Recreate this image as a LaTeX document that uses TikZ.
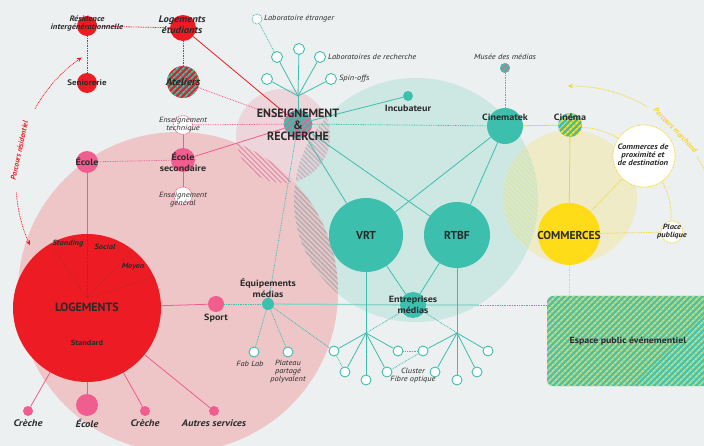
\documentclass[tikz,border=0pt]{standalone}
\usepackage{fontspec}
\setmainfont{PT Sans}
\newfontfamily\lbfont[FakeStretch=1.12]{PT Sans}
\usetikzlibrary{patterns.meta,arrows.meta}
\pgfdeclarelayer{lyrback}
\pgfdeclarelayer{lyredge}
\pgfsetlayers{lyrback,lyredge,main}
\definecolor{cbg}{HTML}{ECF0F0}
\definecolor{cred}{HTML}{ED1C24}
\definecolor{cpink}{HTML}{EF5E8E}
\definecolor{cteal}{HTML}{3DBFAE}
\definecolor{ctealL}{HTML}{8ED3C7}
\definecolor{cyel}{HTML}{FFDC17}
\definecolor{cyelL}{HTML}{F7D52A}
\definecolor{ctext}{HTML}{2A2A2A}
\definecolor{cpinkbg}{HTML}{EEC6C8}
\definecolor{ctealbg}{HTML}{CDE7E3}
\definecolor{cyelbg}{HTML}{EFEBC6}
\definecolor{cerbg}{HTML}{EDD5DC}
\definecolor{hAbase}{HTML}{D8CBCC}
\definecolor{hAline}{HTML}{C6A3A8}
\definecolor{hBbase}{HTML}{EFCDD4}
\definecolor{hBline}{HTML}{E592A6}
\definecolor{hCbase}{HTML}{DAD5DA}
\definecolor{hCline}{HTML}{C4B4BB}
\definecolor{hDbase}{HTML}{D6E8D5}
\definecolor{hDline}{HTML}{D8E6A5}
\definecolor{cespA}{HTML}{4EC2A6}
\definecolor{cespB}{HTML}{B8DD8C}
\definecolor{cdkred}{HTML}{B0252B}
\begin{document}
\begin{tikzpicture}[x=1pt,y=-1pt,
  nd/.style={circle,inner sep=0pt,minimum size=#1},
  lbl/.style={inner sep=0pt,align=center,text=ctext},
  fI/.style={lbl,font=\lbfont\fontsize{7.5}{8}\selectfont\itshape},
  fBI/.style={lbl,font=\lbfont\fontsize{7.8}{8}\selectfont\bfseries\itshape},
  fBIb/.style={lbl,font=\lbfont\fontsize{9.5}{10}\selectfont\bfseries\itshape},
  fBIs/.style={lbl,font=\lbfont\fontsize{7.5}{8}\selectfont\bfseries\itshape},
  fB/.style={lbl,font=\lbfont\fontsize{9}{10.5}\selectfont\bfseries},
  fBig/.style={lbl,font=\fontsize{12}{11.5}\selectfont\bfseries},
  fVB/.style={lbl,font=\fontsize{11.5}{12}\selectfont\bfseries},
  hatch/.style 2 args={fill=#1,postaction={pattern color=#2,pattern={Lines[angle=45,distance=4pt,line width=1.8pt]}}},
  rhatch/.style 2 args={fill=#1,postaction={pattern color=#2,pattern={Lines[angle=-45,distance=3.5pt,line width=1.3pt]}}},
  wt/.style={nd=#1,fill=white,draw=cteal,line width=0.9pt},
  wtd/.style={nd=#1,fill=white,draw=cteal,line width=0.8pt,dash pattern=on 0.8pt off 0.8pt},
  wpd/.style={nd=#1,fill=white,draw=cpink,line width=0.8pt,dash pattern=on 0.8pt off 0.8pt},
  wyd/.style={nd=#1,fill=white,draw=cyelL,line width=0.8pt,dash pattern=on 0.8pt off 0.8pt},
  tl/.style={draw=cteal,line width=0.8pt},
  tld/.style={draw=cteal,line width=0.8pt,dash pattern=on 0.8pt off 0.9pt},
  pl/.style={draw=cpink,line width=0.8pt},
  pld/.style={draw=cpink,line width=0.8pt,dash pattern=on 0.8pt off 0.9pt},
  rl/.style={draw=cred,line width=0.8pt},
  rld/.style={draw=cred,line width=0.8pt,dash pattern=on 0.8pt off 0.9pt},
  yl/.style={draw=cyelL,line width=0.8pt},
  yld/.style={draw=cyelL,line width=0.8pt,dash pattern=on 0.8pt off 0.9pt}
]
\useasboundingbox (0,0) rectangle (704,446);
% ---------- background zones ----------
\begin{pgfonlayer}{lyrback}
\fill[cbg] (0,0) rectangle (704,446);
\fill[cpinkbg] (178,292) circle[radius=160];
\fill[ctealbg] (416,200) circle[radius=122];
\fill[cyelbg] (570,197) circle[radius=67];
\fill[cerbg] (283,136) circle[radius=47];
\begin{scope}
  \clip (178,292) circle[radius=160];
  \path[rhatch={hAbase}{hAline}] (416,200) circle[radius=122];
\end{scope}
\begin{scope}
  \clip (416,200) circle[radius=122];
  \path[rhatch={hDbase}{hDline}] (570,197) circle[radius=67];
\end{scope}
\begin{scope}
  \clip (178,292) circle[radius=160];
  \path[rhatch={hBbase}{hBline}] (283,136) circle[radius=47];
\end{scope}
\begin{scope}
  \clip (416,200) circle[radius=122];
  \path[rhatch={hCbase}{hCline}] (283,136) circle[radius=47];
\end{scope}
\end{pgfonlayer}
% ---------- nodes ----------
\node[nd=20pt,fill=cred] (resid) at (87,26) {};
\node[nd=20pt,fill=cred] (senior) at (87,83) {};
\node[nd=26pt,fill=cred] (logetu) at (183,28) {};
\node[nd=32pt,hatch={cred}{cteal}] (ateliers) at (183,82) {};
\node[wpd=19pt] (enstech) at (183,125) {};
\node[nd=24pt,fill=cpink] (ecolesec) at (183,160) {};
\node[wpd=18pt] (ensgen) at (183,196) {};
\node[nd=22pt,fill=cpink] (ecole) at (87,162) {};
\node[nd=148pt,fill=cred] (logements) at (87,308) {};
\node[nd=10pt,fill=cpink] (creche1) at (28,411) {};
\node[nd=22pt,fill=cpink] (ecole2) at (87,405) {};
\node[nd=10pt,fill=cpink] (creche2) at (145,411) {};
\node[nd=10pt,fill=cpink] (autres) at (214,411) {};
\node[nd=16pt,fill=cpink] (sport) at (216,304) {};
\node[nd=12pt,fill=cteal] (equip) at (268,304) {};
\node[wt=10pt] (fablab) at (254,352) {};
\node[wt=10pt] (plateau) at (288,352) {};
\node[nd=28pt,hatch={cteal}{cpink}] (er) at (298,124) {};
\coordinate (labhub) at (298,96);
\node[wt=11pt] (lab1) at (267,79) {};
\node[wt=11pt] (lab2) at (277,57) {};
\node[wt=11pt] (lab3) at (299,49) {};
\node[wt=11pt] (lab4) at (320,57) {};
\node[wt=11pt] (lab5) at (331,79) {};
\node[wtd=10pt] (labext) at (257,19) {};
\node[nd=10pt,fill=cteal] (incub) at (408,96) {};
\node[nd=74pt,fill=cteal] (vrt) at (366,235) {};
\node[nd=66pt,fill=cteal] (rtbf) at (457,235) {};
\node[nd=36pt,fill=cteal] (cinematek) at (505,126) {};
\node[nd=10pt,hatch={cteal}{cpink}] (musee) at (505,68) {};
\node[nd=26pt,fill=cteal] (entrep) at (413,305) {};
\coordinate (hubL) at (366,333);
\coordinate (hubR) at (457,333);
\foreach \n/\x/\y in {cLa/334/351,cLb/345/372,cLc/366/380,cLd/387/372,cLe/398/351,cRa/423/351,cRb/435/372,cRc/457/380,cRd/477/372,cRe/488/351}
  \node[wt=10pt] (\n) at (\x,\y) {};
\node[nd=24pt,hatch={cteal}{cyel}] (cinema) at (570,125) {};
\node[wyd=62pt] (comprox) at (644,156) {};
\node[nd=62pt,fill=cyel] (commerces) at (569,234) {};
\node[wyd=22pt] (place) at (672,232) {};
\node[rectangle,rounded corners=6pt,minimum width=162pt,minimum height=90pt,inner sep=0pt,
      hatch={cespA}{cespB},text=ctext,font=\lbfont\fontsize{8.8}{10}\selectfont\bfseries] (espace) at (628,341) {Espace public événementiel};
\coordinate (tealedge) at (478,305);
% ---------- connectors ----------
\begin{pgfonlayer}{lyredge}
\draw[rld] (resid) -- (senior);
\draw[rld] (resid) -- (logetu);
\draw[rld] (logetu) -- (ateliers);
\draw[rl] (logetu) -- (er);
\draw[pld] (ateliers) -- (er);
\draw[pld] (enstech) -- (er);
\draw[pl] (enstech) -- (ecolesec);
\draw[pl] (ecolesec) -- (ensgen);
\draw[pl] (ecolesec) -- (er);
\draw[pld] (ecole) -- (ecolesec);
\draw[pl] (ecole) -- (logements);
\draw[pl] (logements) -- (creche1);
\draw[pl] (logements) -- (ecole2);
\draw[pl] (logements) -- (creche2);
\draw[pl] (logements) -- (autres);
\draw[pl] (logements) -- (sport);
\draw[tld] (sport) -- (equip);
\draw[tld] (equip) -- (fablab);
\draw[tld] (equip) -- (plateau);
\draw[tld] (equip) -- (cLa);
\draw[tld] (equip) -- (er);
\draw[draw=ctealL,line width=1.3pt] (equip) -- (entrep) -- (tealedge);
\draw[tld] (tealedge) -- (espace.west |- tealedge);
\draw[tl] (er) -- (labhub);
\foreach \n in {lab1,lab2,lab3,lab4,lab5} \draw[tl] (labhub) -- (\n);
\draw[tld] (lab2) -- (labext);
\draw[tl] (er) -- (incub);
\draw[tl] (er) -- (vrt);
\draw[tl] (er) -- (rtbf);
\draw[tld] (er) -- (cinematek);
\draw[tl] (cinematek) -- (vrt);
\draw[tl] (cinematek) -- (rtbf);
\draw[tld] (musee) -- (cinematek);
\draw[tl] (vrt) -- (entrep);
\draw[tl] (rtbf) -- (entrep);
\draw[tl] (vrt) -- (cLc);
\draw[tl] (rtbf) -- (cRc);
\foreach \n in {cLa,cLb,cLd,cLe} \draw[tl] (hubL) -- (\n);
\foreach \n in {cRa,cRb,cRd,cRe} \draw[tl] (hubR) -- (\n);
\draw[tld] (entrep) -- (hubL);
\draw[tld] (entrep) -- (hubR);
\draw[tld] (cLa) -- (cLb);
\draw[tld] (cLe) -- (cRa);
\draw[tld] (cLd) -- (cRa);
\draw[yl] (cinematek) -- (cinema);
\draw[yl] (cinema) -- (commerces);
\draw[yld] (cinema) to[bend left=12] (comprox);
\draw[yld] (commerces) -- (comprox);
\draw[yld] (commerces) -- (place);
\draw[yld] (comprox) to[bend left=15] (place);
\draw[yld] (commerces) -- (commerces |- espace.north);
\end{pgfonlayer}
% lines inside LOGEMENTS
\coordinate (lgc) at (87,298);
\foreach \a in {120,90,52,25} \draw[draw=cdkred,line width=0.5pt,dash pattern=on 0.6pt off 0.8pt] (lgc) -- (logements.\a);
% parcours arcs
\draw[rld,{Stealth[length=5pt,width=4.5pt]}-] plot[domain=155.3:176,samples=20] ({167+151*cos(\x)},{182+151*sin(\x)});
\draw[rld,-{Stealth[length=5pt,width=4.5pt]}] plot[domain=209:235.6,samples=20] ({167+151*cos(\x)},{182+151*sin(\x)});
\node[lbl,text=cred,font=\fontsize{7.5}{8}\selectfont\bfseries\itshape,rotate=78] (parres) at (19.3,150.6) {Parcours résidentiel};
\draw[yld,{Stealth[length=5pt,width=4.5pt]}-] plot[domain=268.4:301,samples=20] ({572+146*cos(\x)},{232+146*sin(\x)});
\draw[yld] plot[domain=329:345,samples=10] ({572+146*cos(\x)},{232+146*sin(\x)});
\node[lbl,text=cyelL,font=\fontsize{7.5}{8}\selectfont\bfseries\itshape,rotate=-46] (parmar) at (675.5,130) {Parcours marchand};
% ---------- labels ----------
\node[fBI] (residl) at (87,24) {Résidence\\intergénérationnelle};
\node[lbl,font=\lbfont\fontsize{8}{8}\selectfont\bfseries] (seniorl) at (87,83) {Seniorerie};
\node[lbl,font=\lbfont\fontsize{9.5}{11}\selectfont\bfseries\itshape] (logetul) at (182,25) {Logements\\étudiants};
\node[lbl,font=\lbfont\fontsize{10}{10}\selectfont\bfseries\itshape] (ateliersl) at (183,82) {Ateliers};
\node[fI] (enstechl) at (183,125) {Enseignement\\technique};
\node[fB] (ecolesecl) at (183,162) {École\\secondaire};
\node[fI] (ensgenl) at (183,200) {Enseignement\\général};
\node[fB] (ecolel) at (87,162) {École};
\node[fBig] (logementsl) at (87,307) {LOGEMENTS};
\node[lbl,font=\lbfont\fontsize{7.5}{8}\selectfont\bfseries] (standardl) at (87,343) {Standard};
\node[fBIs] (standingl) at (68,244) {Standing};
\node[fBIs] (sociall) at (105,247) {Social};
\node[fBIs] (moyenl) at (133,267) {Moyen};
\node[fBIb] (creche1l) at (28,423) {Crèche};
\node[fBIb] (ecole2l) at (87,423) {École};
\node[fBIb] (creche2l) at (145,423) {Crèche};
\node[fBIb] (autresl) at (214,423) {Autres services};
\node[fB] (sportl) at (216,318) {Sport};
\node[fB] (equipl) at (268,288) {Équipements\\médias};
\node[fI] (fablabl) at (250,364) {Fab Lab};
\node[fI] (plateaul) at (288,372) {Plateau\\partagé\\polyvalent};
\node[fBig] (erl) at (298,125) {ENSEIGNEMENT\\\&\\RECHERCHE};
\node[fI,anchor=west] (labextl) at (264,19) {Laboratoire étranger};
\node[fI,anchor=west] (labrl) at (328,57) {Laboratoires de recherche};
\node[fI,anchor=west] (spinl) at (339,79) {Spin-offs};
\node[fB] (incubl) at (408,108) {Incubateur};
\node[fVB] (vrtl) at (366,235) {VRT};
\node[fVB] (rtbfl) at (457,235) {RTBF};
\node[fB] (cinematekl) at (505,117) {Cinematek};
\node[fI] (museel) at (505,57) {Musée des médias};
\node[fB] (entrepl) at (413,305) {Entreprises\\médias};
\node[fI] (clusterl) at (413,376) {Cluster\\Fibre optique};
\node[fB] (cinemal) at (570,117) {Cinéma};
\node[fBIs,font=\lbfont\fontsize{7.8}{8.2}\selectfont\bfseries\itshape] (comproxl) at (643,155) {Commerces de\\proximité et\\de destination};
\node[fVB] (commercesl) at (569,235) {COMMERCES};
\node[fBIs] (placel) at (672,232) {Place\\publique};
\end{tikzpicture}
\end{document}
